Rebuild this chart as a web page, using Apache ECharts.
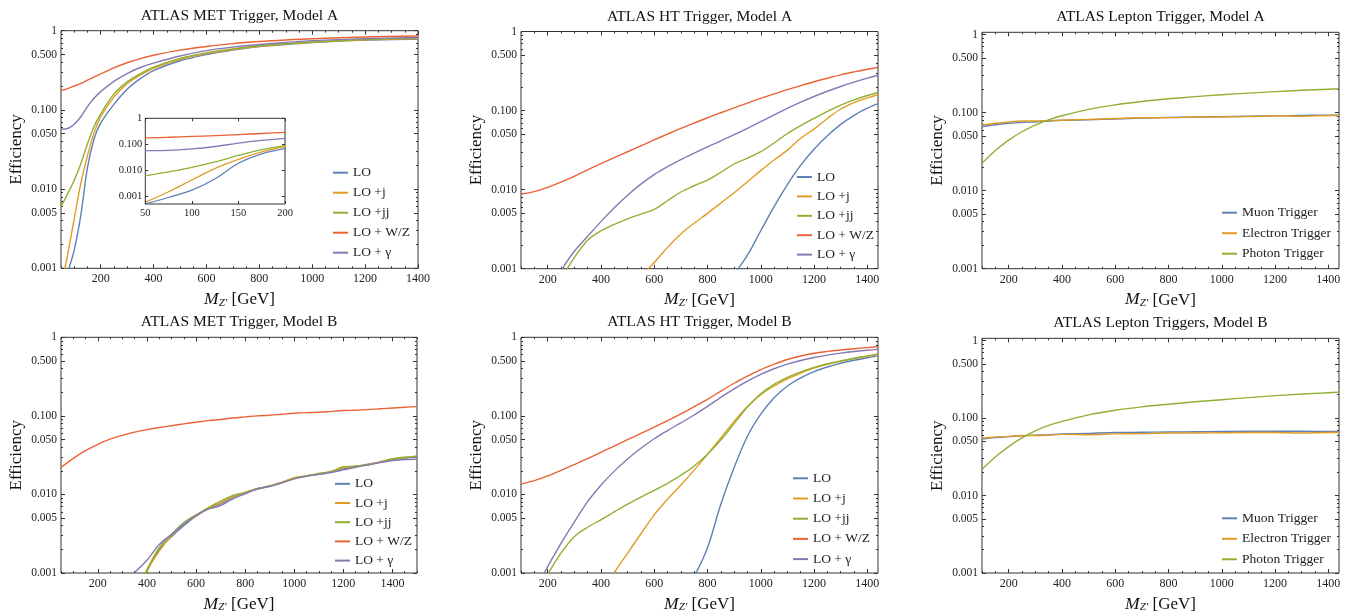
<!DOCTYPE html>
<html><head><meta charset="utf-8">
<script src="https://cdn.jsdelivr.net/npm/echarts@6/dist/echarts.min.js"></script>
<style>html,body{margin:0;padding:0;background:#fff}#c{width:1351px;height:614px}</style>
</head><body><div id="c"></div><script>
// ---------------- DATA ----------------
// Panel 1: ATLAS MET Trigger, Model A
const metA_x  = [50,75,100,125,150,175,200,250,300,350,400,500,600,700,800,900,1000,1200,1400];
const metA_LO = [0.0005,0.00089,0.0017,0.0047,0.0186,0.043,0.068,0.1175,0.182,0.248,0.313,0.417,0.50,0.57,0.63,0.67,0.71,0.76,0.785];
const metA_j  = [0.00058,0.00148,0.0042,0.0118,0.0263,0.0513,0.0813,0.145,0.214,0.275,0.335,0.435,0.513,0.58,0.635,0.676,0.715,0.767,0.796];
const metA_jj = [0.006,0.0087,0.0129,0.0209,0.0372,0.0617,0.0891,0.158,0.226,0.288,0.347,0.447,0.525,0.59,0.645,0.685,0.72,0.775,0.80];
const metA_WZ = [0.175,0.186,0.20,0.216,0.237,0.26,0.285,0.339,0.394,0.445,0.49,0.569,0.631,0.687,0.73,0.764,0.792,0.832,0.859];
const metA_g  = [0.057,0.0582,0.066,0.082,0.11,0.14,0.17,0.229,0.288,0.343,0.389,0.479,0.56,0.621,0.67,0.71,0.75,0.795,0.82];

// Panel 2: ATLAS HT Trigger, Model A
const htA_x  = [100,150,200,250,300,350,400,450,500,550,600,650,700,750,800,850,900,950,1000,1050,1100,1150,1200,1250,1300,1350,1400,1440];
const htA_LO = [null,null,null,null,null,null,null,null,null,null,null,null,null,null,null,null,0.00085,0.00148,0.00302,0.0061,0.0116,0.0204,0.0324,0.0479,0.0668,0.0871,0.1072,0.1225];
const htA_j  = [null,null,null,null,null,null,null,null,null,0.00081,0.0012,0.00186,0.00275,0.00376,0.00501,0.00676,0.00912,0.0126,0.0174,0.0237,0.0316,0.0447,0.0582,0.0794,0.1047,0.1259,0.1445,0.1585];
const htA_jj = [null,null,null,0.00074,0.00138,0.00229,0.00302,0.00363,0.00427,0.0049,0.00562,0.00724,0.00933,0.0112,0.0132,0.0166,0.0211,0.0251,0.0302,0.0389,0.0513,0.0646,0.0794,0.0977,0.1175,0.1365,0.155,0.169];
const htA_WZ = [0.00879,0.00944,0.0107,0.01245,0.01476,0.01778,0.02133,0.02541,0.03013,0.03581,0.04256,0.05035,0.05943,0.0695,0.0811,0.0938,0.1081,0.1245,0.1426,0.1622,0.1837,0.2065,0.2312,0.2564,0.2831,0.3083,0.3334,0.35];
const htA_g  = [null,null,null,0.00094,0.00166,0.00257,0.00394,0.00589,0.00851,0.01175,0.0155,0.0195,0.024,0.029,0.0348,0.0414,0.0495,0.0597,0.0724,0.0881,0.1067,0.1276,0.1507,0.1754,0.2014,0.2286,0.257,0.28];

// Panel 3: ATLAS Lepton Trigger, Model A
const lepA_x  = [100,150,200,250,300,350,400,500,600,700,800,900,1000,1100,1200,1300,1400,1440];
const lepA_mu = [0.066,0.070,0.073,0.075,0.076,0.078,0.080,0.081,0.083,0.085,0.087,0.088,0.089,0.090,0.091,0.092,0.093,0.093];
const lepA_el = [0.069,0.073,0.076,0.078,0.078,0.079,0.080,0.082,0.084,0.086,0.086,0.088,0.088,0.089,0.091,0.090,0.092,0.092];
const lepA_ph = [0.0224,0.0327,0.0445,0.0569,0.0692,0.0807,0.0912,0.1102,0.1259,0.139,0.1503,0.1603,0.1694,0.1778,0.1858,0.1932,0.1995,0.2018];

// Panel 4: ATLAS MET Trigger, Model B
const metB_x  = [50,100,150,200,250,300,350,400,450,500,550,600,650,700,750,800,850,900,950,1000,1050,1100,1150,1200,1250,1300,1350,1400,1450,1500];
const metB_LO = [null,null,null,null,null,null,0.0004,0.00105,0.002,0.0029,0.004,0.0053,0.0066,0.0076,0.0092,0.0105,0.0119,0.0128,0.0142,0.016,0.0172,0.0182,0.0195,0.0212,0.0228,0.0242,0.0258,0.0275,0.029,0.030];
const metB_j  = [null,null,null,null,null,null,0.0004,0.00105,0.0019,0.003,0.0042,0.0053,0.0067,0.0078,0.0093,0.0106,0.0118,0.0129,0.0143,0.0163,0.0172,0.0183,0.0196,0.0218,0.0228,0.024,0.026,0.028,0.0295,0.031];
const metB_jj = [null,null,null,null,null,null,0.0005,0.0011,0.0021,0.0031,0.0044,0.0055,0.0068,0.0082,0.0097,0.0106,0.0116,0.0128,0.0141,0.016,0.0172,0.0185,0.0194,0.0225,0.0228,0.0236,0.026,0.0285,0.0298,0.0305];
const metB_WZ = [0.022,0.0288,0.0362,0.0435,0.0505,0.0565,0.062,0.0668,0.071,0.075,0.079,0.083,0.087,0.090,0.094,0.097,0.100,0.102,0.105,0.108,0.110,0.111,0.114,0.117,0.118,0.120,0.123,0.126,0.129,0.131];
const metB_g  = [null,null,null,null,null,null,0.00102,0.00145,0.0023,0.0031,0.0042,0.0054,0.0065,0.0072,0.0088,0.0102,0.0118,0.0126,0.0140,0.0158,0.017,0.018,0.019,0.0205,0.0222,0.0238,0.0255,0.027,0.0278,0.028];

// Panel 5: ATLAS HT Trigger, Model B
const htB_x  = [100,150,200,250,300,350,400,450,500,550,600,650,700,750,800,850,900,950,1000,1050,1100,1150,1200,1250,1300,1350,1400,1440];
const htB_LO = [null,null,null,null,null,null,null,null,null,null,null,null,null,0.0009,0.0021,0.0075,0.022,0.055,0.105,0.17,0.24,0.305,0.366,0.419,0.467,0.51,0.55,0.58];
const htB_j  = [null,null,null,null,null,null,0.0004,0.000995,0.00178,0.00316,0.0055,0.0087,0.0132,0.0204,0.0324,0.0525,0.0851,0.132,0.186,0.24,0.295,0.351,0.405,0.452,0.494,0.535,0.573,0.605];
const htB_jj = [null,null,0.00096,0.00179,0.0029,0.00382,0.00475,0.00598,0.00753,0.00927,0.01127,0.01387,0.01746,0.023,0.0325,0.0492,0.0798,0.1294,0.1914,0.2523,0.309,0.363,0.414,0.46,0.502,0.542,0.581,0.615];
const htB_WZ = [0.0135,0.015,0.0172,0.0202,0.024,0.0286,0.0344,0.0413,0.0497,0.0597,0.0718,0.0869,0.1062,0.131,0.162,0.2065,0.26,0.32,0.389,0.455,0.522,0.579,0.627,0.661,0.69,0.716,0.74,0.759];
const htB_g  = [null,0.0006,0.0012,0.00239,0.00445,0.0081,0.0131,0.0198,0.0283,0.0387,0.0511,0.065,0.0815,0.1026,0.132,0.172,0.221,0.277,0.337,0.398,0.455,0.507,0.553,0.594,0.629,0.659,0.684,0.703];

// Panel 6: ATLAS Lepton Triggers, Model B
const lepB_x  = [100,150,200,250,300,350,400,500,600,700,800,900,1000,1100,1200,1300,1400,1440];
const lepB_mu = [0.0537,0.056,0.0575,0.059,0.060,0.061,0.0622,0.0635,0.065,0.0655,0.066,0.0665,0.067,0.0675,0.0675,0.0675,0.067,0.067];
const lepB_el = [0.055,0.057,0.058,0.0595,0.0595,0.060,0.0615,0.061,0.0625,0.063,0.064,0.064,0.0645,0.065,0.065,0.064,0.065,0.065];
const lepB_ph = [0.0218,0.0315,0.0428,0.0555,0.0685,0.0803,0.0906,0.11,0.126,0.1395,0.151,0.162,0.1725,0.1835,0.1945,0.204,0.2125,0.216];

// Tick labels
const yLabelVals = [0.001,0.005,0.01,0.05,0.1,0.5,1];
const insetYLabelVals = [0.001,0.01,0.1,1];
const insetXLabelVals = [50,100,150,200];

// ---------------- STYLE / LAYOUT ----------------
const FONT = "'Liberation Serif','Times New Roman',serif";
const AXC = '#333';
const COLORS = {'LO':'#5E81B5','LO +j':'#E19C24','LO +jj':'#8FB032','LO + W/Z':'#EB6235','LO + γ':'#8778B3',
  'Muon Trigger':'#5E81B5','Electron Trigger':'#E19C24','Photon Trigger':'#8FB032'};
const MODEL_NAMES = ['LO','LO +j','LO +jj','LO + W/Z','LO + γ'];
const LEP_NAMES = ['Muon Trigger','Electron Trigger','Photon Trigger'];

const panels = [
  {g:{left:61,top:30.7,width:357,height:237.6}, xmin:50, xmax:1400, ymax:1, title:'ATLAS MET Trigger, Model A',
   x:metA_x, ys:[metA_LO,metA_j,metA_jj,metA_WZ,metA_g], names:MODEL_NAMES, leg:{left:333,top:165.7,gap:6}},
  {g:{left:521,top:31.5,width:357,height:237.2}, xmin:100, xmax:1440, ymax:1, title:'ATLAS HT Trigger, Model A',
   x:htA_x, ys:[htA_LO,htA_j,htA_jj,htA_WZ,htA_g], names:MODEL_NAMES, leg:{left:797,top:170,gap:5.4}},
  {g:{left:982,top:32.3,width:357,height:236.4}, xmin:100, xmax:1440, ymax:1.07, title:'ATLAS Lepton Trigger, Model A',
   x:lepA_x, ys:[lepA_mu,lepA_el,lepA_ph], names:LEP_NAMES, leg:{left:1222,top:205.7,gap:6.5}},
  {g:{left:61,top:337.3,width:356,height:237}, xmin:50, xmax:1500, ymax:1, title:'ATLAS MET Trigger, Model B',
   x:metB_x, ys:[metB_LO,metB_j,metB_jj,metB_WZ,metB_g], names:MODEL_NAMES, leg:{left:335,top:476.8,gap:5.2}},
  {g:{left:521,top:337.3,width:357,height:237}, xmin:100, xmax:1440, ymax:1, title:'ATLAS HT Trigger, Model B',
   x:htB_x, ys:[htB_LO,htB_j,htB_jj,htB_WZ,htB_g], names:MODEL_NAMES, leg:{left:793,top:471.3,gap:6.2}},
  {g:{left:982,top:338.3,width:357,height:236}, xmin:100, xmax:1440, ymax:1.07, title:'ATLAS Lepton Triggers, Model B',
   x:lepB_x, ys:[lepB_mu,lepB_el,lepB_ph], names:LEP_NAMES, leg:{left:1222,top:511.3,gap:6.5}},
];

function stepTicks(min, max, step){ const a=[]; for(let v=Math.ceil(min/step)*step; v<=max+1e-9; v+=step) a.push(v); return a; }
function logMinor(minExp, maxExp){ const a=[]; for(let k=minExp;k<maxExp;k++) for(const m of [2,3,4,6,7,8,9]) a.push(+(m*Math.pow(10,k)).toPrecision(3)); return a; }
function fmtY(v){ return v > 0.99 ? '1' : Number(v).toFixed(3); }
function fmtX(v){ return String(Math.round(v)); }
function pairs(xs, ys){ return xs.map((x,i)=>[x, ys[i]]).filter(p=>p[1]!=null); }

function mkX(gi, min, max, pos, ticks, len, labelVals, extra){
  return Object.assign({
    type:'value', gridIndex:gi, min:min, max:max, position:pos,
    axisLine:{show:false,onZero:false}, splitLine:{show:false},
    axisTick:{show:true, inside:true, length:len, customValues:ticks, lineStyle:{color:AXC,width:1}},
    axisLabel: labelVals ? {show:true, customValues:labelVals, formatter:fmtX, fontFamily:FONT, fontSize:12, color:'#222', margin:5} : {show:false}
  }, extra||{});
}
function mkY(gi, min, max, pos, ticks, len, labelVals, extra){
  return Object.assign({
    type:'log', logBase:10, gridIndex:gi, min:min, max:max, position:pos,
    axisLine:{show:false,onZero:false}, splitLine:{show:false},
    axisTick:{show:true, inside:true, length:len, customValues:ticks, lineStyle:{color:AXC,width:1}},
    axisLabel: labelVals ? {show:true, customValues:labelVals, formatter:fmtY, fontFamily:FONT, fontSize:11.5, color:'#222', margin:4} : {show:false}
  }, extra||{});
}

const grid=[], xAxis=[], yAxis=[], series=[], legend=[];
const yMinorTicks = logMinor(-3, 0);

panels.forEach((p, i) => {
  grid.push(Object.assign({show:true, borderColor:AXC, borderWidth:1, backgroundColor:'transparent'}, p.g));
  const xMaj = stepTicks(p.xmin, p.xmax, 200);
  const xMin = stepTicks(p.xmin, p.xmax, 50).filter(v => v % 200 !== 0);
  xAxis.push(mkX(i, p.xmin, p.xmax, 'bottom', xMaj, 4, xMaj, {
    name:'{m|M}{s|Z′}{t| [GeV]}', nameLocation:'middle', nameGap:22,
    nameTextStyle:{fontFamily:FONT, fontSize:17, color:'#111', rich:{
      m:{fontFamily:FONT, fontSize:17.5, fontStyle:'italic', color:'#111', verticalAlign:'bottom'},
      s:{fontFamily:FONT, fontSize:11, fontStyle:'italic', color:'#111', lineHeight:6, verticalAlign:'bottom'},
      t:{fontFamily:FONT, fontSize:17, color:'#111', verticalAlign:'bottom'} }}
  }));
  xAxis.push(mkX(i, p.xmin, p.xmax, 'bottom', xMin, 2, null));
  xAxis.push(mkX(i, p.xmin, p.xmax, 'top', xMaj, 4, null, {
    name:p.title, nameLocation:'middle', nameGap:7,
    nameTextStyle:{fontFamily:FONT, fontSize:15.5, color:'#111'}
  }));
  xAxis.push(mkX(i, p.xmin, p.xmax, 'top', xMin, 2, null));

  yAxis.push(mkY(i, 0.001, p.ymax, 'left', yLabelVals, 4, yLabelVals, {
    name:'Efficiency', nameLocation:'middle', nameGap:36,
    nameTextStyle:{fontFamily:FONT, fontSize:17, color:'#111'}
  }));
  yAxis.push(mkY(i, 0.001, p.ymax, 'left', yMinorTicks, 2, null));
  yAxis.push(mkY(i, 0.001, p.ymax, 'right', yLabelVals, 4, null));
  yAxis.push(mkY(i, 0.001, p.ymax, 'right', yMinorTicks, 2, null));

  p.ys.forEach((ys, k) => {
    const nm = p.names[k];
    series.push({type:'line', name:nm, xAxisIndex:4*i, yAxisIndex:4*i, data:pairs(p.x, ys),
      showSymbol:false, symbol:'none', smooth:0.35, clip:true, silent:true, z:2,
      lineStyle:{width:1.4, color:COLORS[nm]}, itemStyle:{color:COLORS[nm]}});
  });

  legend.push({orient:'vertical', left:p.leg.left, top:p.leg.top, padding:0, itemWidth:15, itemHeight:2, itemGap:p.leg.gap,
    icon:'rect', selectedMode:false, data:p.names,
    textStyle:{fontFamily:FONT, fontSize:13.5, color:'#222'}});
});

// Inset in panel 1 (50–200 GeV zoom)
const IN = {left:145.3, top:118.3, width:139.7, height:85.7};
const gi = panels.length;
grid.push(Object.assign({show:false}, IN));
const ix = xAxis.length, iy = yAxis.length;
const inXLab = insetXLabelVals;
xAxis.push(mkX(gi, 50, 200, 'bottom', inXLab, 3, inXLab, {z:10, axisLabel:{customValues:inXLab, formatter:fmtX, fontFamily:FONT, fontSize:10.5, color:'#222', margin:4}}));
xAxis.push(mkX(gi, 50, 200, 'top', inXLab, 3, null, {z:10}));
yAxis.push(mkY(gi, 0.0005, 1, 'left', insetYLabelVals, 3, insetYLabelVals, {z:10, axisLabel:{customValues:insetYLabelVals, formatter:fmtY, fontFamily:FONT, fontSize:10.5, color:'#222', margin:3}}));
yAxis.push(mkY(gi, 0.0005, 1, 'right', insetYLabelVals, 3, null, {z:10}));
panels[0].ys.forEach((ys, k) => {
  const nm = panels[0].names[k];
  series.push({type:'line', name:nm, xAxisIndex:ix, yAxisIndex:iy, data:pairs(metA_x, ys),
    showSymbol:false, symbol:'none', smooth:0.35, clip:true, silent:true, z:5,
    lineStyle:{width:1.3, color:COLORS[nm]}, itemStyle:{color:COLORS[nm]}});
});

const chart = echarts.init(document.getElementById('c'), null, {renderer:'canvas'});
chart.setOption({
  animation:false,
  backgroundColor:'#fff',
  grid, xAxis, yAxis, series, legend,
  graphic:{elements:[{type:'rect', z:4, silent:true,
    shape:{x:IN.left, y:IN.top, width:IN.width, height:IN.height},
    style:{fill:'#fff', stroke:AXC, lineWidth:1}}]}
});
</script></body></html>
